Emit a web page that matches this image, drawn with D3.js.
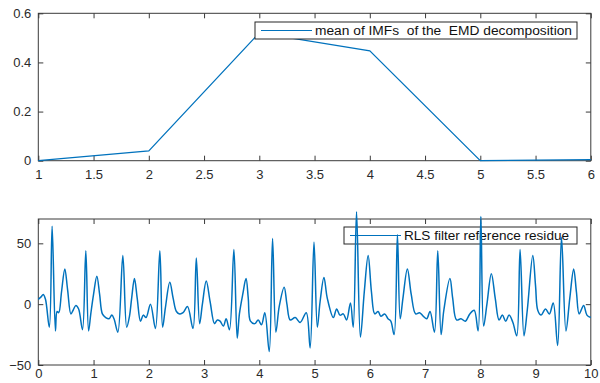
<!DOCTYPE html>
<html>
<head>
<meta charset="utf-8">
<script src="https://cdn.jsdelivr.net/npm/d3@7"></script>
<style>
  body { margin: 0; background: #fff; }
  svg { display: block; font-family: "Liberation Sans", Arial, sans-serif; }
  .axis path { display: none; }
  .axis line { stroke: #3a3a3a; }
  .axis text { fill: #2a2a2a; font-size: 13px; }
</style>
</head>
<body>
<svg id="chart" width="600" height="383"></svg>
<script>
// top panel: mean of IMFs
const imfIndex = [1, 2, 3, 4, 5, 6]
const imfMean = [0, 0.04, 0.52, 0.447, 0, 0.004]
const topXTicks = [1, 1.5, 2, 2.5, 3, 3.5, 4, 4.5, 5, 5.5, 6]
const topYTicks = [0, 0.2, 0.4, 0.6]

// bottom panel: RLS residue (time, value)
const resTime = [
  0.00, 0.05, 0.09, 0.13, 0.20, 0.25, 0.31, 0.34, 0.37, 0.42, 0.48, 0.53, 0.59, 0.63, 0.68, 0.73, 0.80, 0.86, 0.91, 0.95,
  1.00, 1.06, 1.11, 1.16, 1.22, 1.28, 1.33, 1.37, 1.44, 1.53, 1.60, 1.65, 1.69, 1.74, 1.79, 1.85, 1.90, 1.95,
  2.03, 2.12, 2.20, 2.25, 2.30, 2.38, 2.44, 2.50, 2.56, 2.62, 2.70, 2.80, 2.86, 2.92, 2.97,
  3.04, 3.11, 3.19, 3.24, 3.29, 3.35, 3.40, 3.46, 3.54, 3.60, 3.64, 3.70, 3.76, 3.80, 3.84, 3.92, 3.98,
  4.04, 4.10, 4.18, 4.24, 4.30, 4.36, 4.45, 4.50, 4.56, 4.65, 4.74, 4.85, 4.92, 4.99,
  5.05, 5.10, 5.17, 5.23, 5.34, 5.40, 5.46, 5.52, 5.58, 5.65, 5.70, 5.76, 5.83, 5.90, 5.97,
  6.03, 6.09, 6.15, 6.20, 6.27, 6.33, 6.38, 6.44, 6.50, 6.55, 6.60, 6.68, 6.75, 6.83, 6.90, 6.97,
  7.03, 7.09, 7.17, 7.23, 7.29, 7.34, 7.45, 7.50, 7.57, 7.65, 7.73, 7.81, 7.89, 7.96,
  8.01, 8.06, 8.12, 8.20, 8.27, 8.34, 8.40, 8.46, 8.52, 8.59, 8.66, 8.72, 8.79, 8.85, 8.95,
  9.00, 9.04, 9.10, 9.18, 9.25, 9.32, 9.40, 9.47, 9.55, 9.62, 9.69, 9.74, 9.79, 9.87, 9.93, 10.00
]
const resValue = [
  4, 6, 8, 4, -19, 64, -22, -6, -7, 10, 29, 12, -8, -5, -1, -4, -21, 44, -22, -8,
  8, 23, 8, -8, -11, -12, -9, -12, -23, 40, -19, -10, 5, 21, 5, -14, -9, -11,
  0, -20, 44, -19, -3, 18, 5, -6, -8, -7, -2, -20, 38, -16, 0,
  19, 2, -16, -13, -14, -18, -12, -21, 45, -28, -8, 8, 21, 5, -14, -16, -13,
  -17, -7, -39, 54, -23, -2, 14, 0, -13, -11, -15, -7, -36, 51,
  -19, 2, 22, 5, -11, -4, -9, -8, -13, 1, -19, 76, -27, 10, 40,
  10, -8, -6, -10, -8, -12, -14, -25, 57, -12, 5, 29, 8, -8, -7, -10,
  -12, -6, -23, 44, -25, -5, 21, 5, -13, -12, -14, -8, -5, -22,
  72, -18, 0, 25, 5, -13, -9, -14, -9, -15, -26, 45, -26, -5, 40,
  15, -5, -9, -4, -8, 1, -34, 55, -22, 5, 29, 10, -8, -1, -9, -11
]
const botXTicks = [0, 1, 2, 3, 4, 5, 6, 7, 8, 9, 10]
const botYTicks = [-50, 0, 50]

const lineColor = '#0072BD'
const svg = d3.select('#chart')

// draws a matlab style box with inward ticks on all four sides
function drawBox(g, x, y, xTicks, yTicks, xPad) {
  const [x0, x1] = x.range()
  const [y0, y1] = y.range()
  g.append('rect')
    .attr('x', x0).attr('y', y1)
    .attr('width', x1 - x0).attr('height', y0 - y1)
    .attr('fill', '#fff')
    .attr('stroke', '#3a3a3a')
    .attr('stroke-width', 1)

  g.append('g').attr('class', 'axis')
    .attr('transform', `translate(0,${y0})`)
    .call(d3.axisBottom(x).tickValues(xTicks).tickSize(-5).tickPadding(xPad).tickFormat(d3.format('')))
  g.append('g').attr('class', 'axis')
    .attr('transform', `translate(0,${y1})`)
    .call(d3.axisTop(x).tickValues(xTicks).tickSize(-5).tickFormat(''))
  g.append('g').attr('class', 'axis')
    .attr('transform', `translate(${x0},0)`)
    .call(d3.axisLeft(y).tickValues(yTicks).tickSize(-5).tickPadding(7).tickFormat(d3.format('')))
  g.append('g').attr('class', 'axis')
    .attr('transform', `translate(${x1},0)`)
    .call(d3.axisRight(y).tickValues(yTicks).tickSize(-5).tickFormat(''))
}

function drawLegend(g, x, y, w, h, label, size, len) {
  g.append('rect')
    .attr('x', x).attr('y', y).attr('width', w).attr('height', h)
    .attr('fill', '#fff').attr('stroke', '#262626').attr('stroke-width', 1)
  g.append('line')
    .attr('x1', x + 6).attr('x2', x + 57)
    .attr('y1', y + h / 2).attr('y2', y + h / 2)
    .attr('stroke', lineColor).attr('stroke-width', 1.2)
  g.append('text')
    .attr('x', x + 60).attr('y', y + h / 2 + size * 0.36)
    .attr('font-size', size).attr('fill', '#111')
    .attr('textLength', len).attr('lengthAdjust', 'spacingAndGlyphs')
    .style('white-space', 'pre')
    .text(label)
}

//======== top panel ========//
{
  const x = d3.scaleLinear().domain([1, 6]).range([38.3, 590.8])
  const y = d3.scaleLinear().domain([0, 0.6]).range([160.7, 13.3])
  const g = svg.append('g')
  drawBox(g, x, y, topXTicks, topYTicks, 9.5)

  const line = d3.line().x((d, i) => x(imfIndex[i])).y(d => y(d))
  g.append('path')
    .datum(imfMean)
    .attr('d', line)
    .attr('fill', 'none')
    .attr('stroke', lineColor)
    .attr('stroke-width', 1.2)

  drawLegend(g, 255, 22, 322, 17, 'mean of IMFs  of the  EMD decomposition', 12, 257)
}

//======== bottom panel ========//
{
  const x = d3.scaleLinear().domain([0, 10]).range([38.3, 590.8])
  const y = d3.scaleLinear().domain([-50, 70]).range([365, 219])
  const g = svg.append('g')
  drawBox(g, x, y, botXTicks, botYTicks, 4)

  drawLegend(g, 344, 227, 233, 17, 'RLS filter reference residue', 13, 165)

  const line = d3.line()
    .x((d, i) => x(resTime[i]))
    .y(d => y(d))
    .curve(d3.curveCatmullRom.alpha(0.5))
  g.append('path')
    .datum(resValue)
    .attr('d', line)
    .attr('fill', 'none')
    .attr('stroke', lineColor)
    .attr('stroke-width', 1.5)
}
</script>
</body>
</html>
